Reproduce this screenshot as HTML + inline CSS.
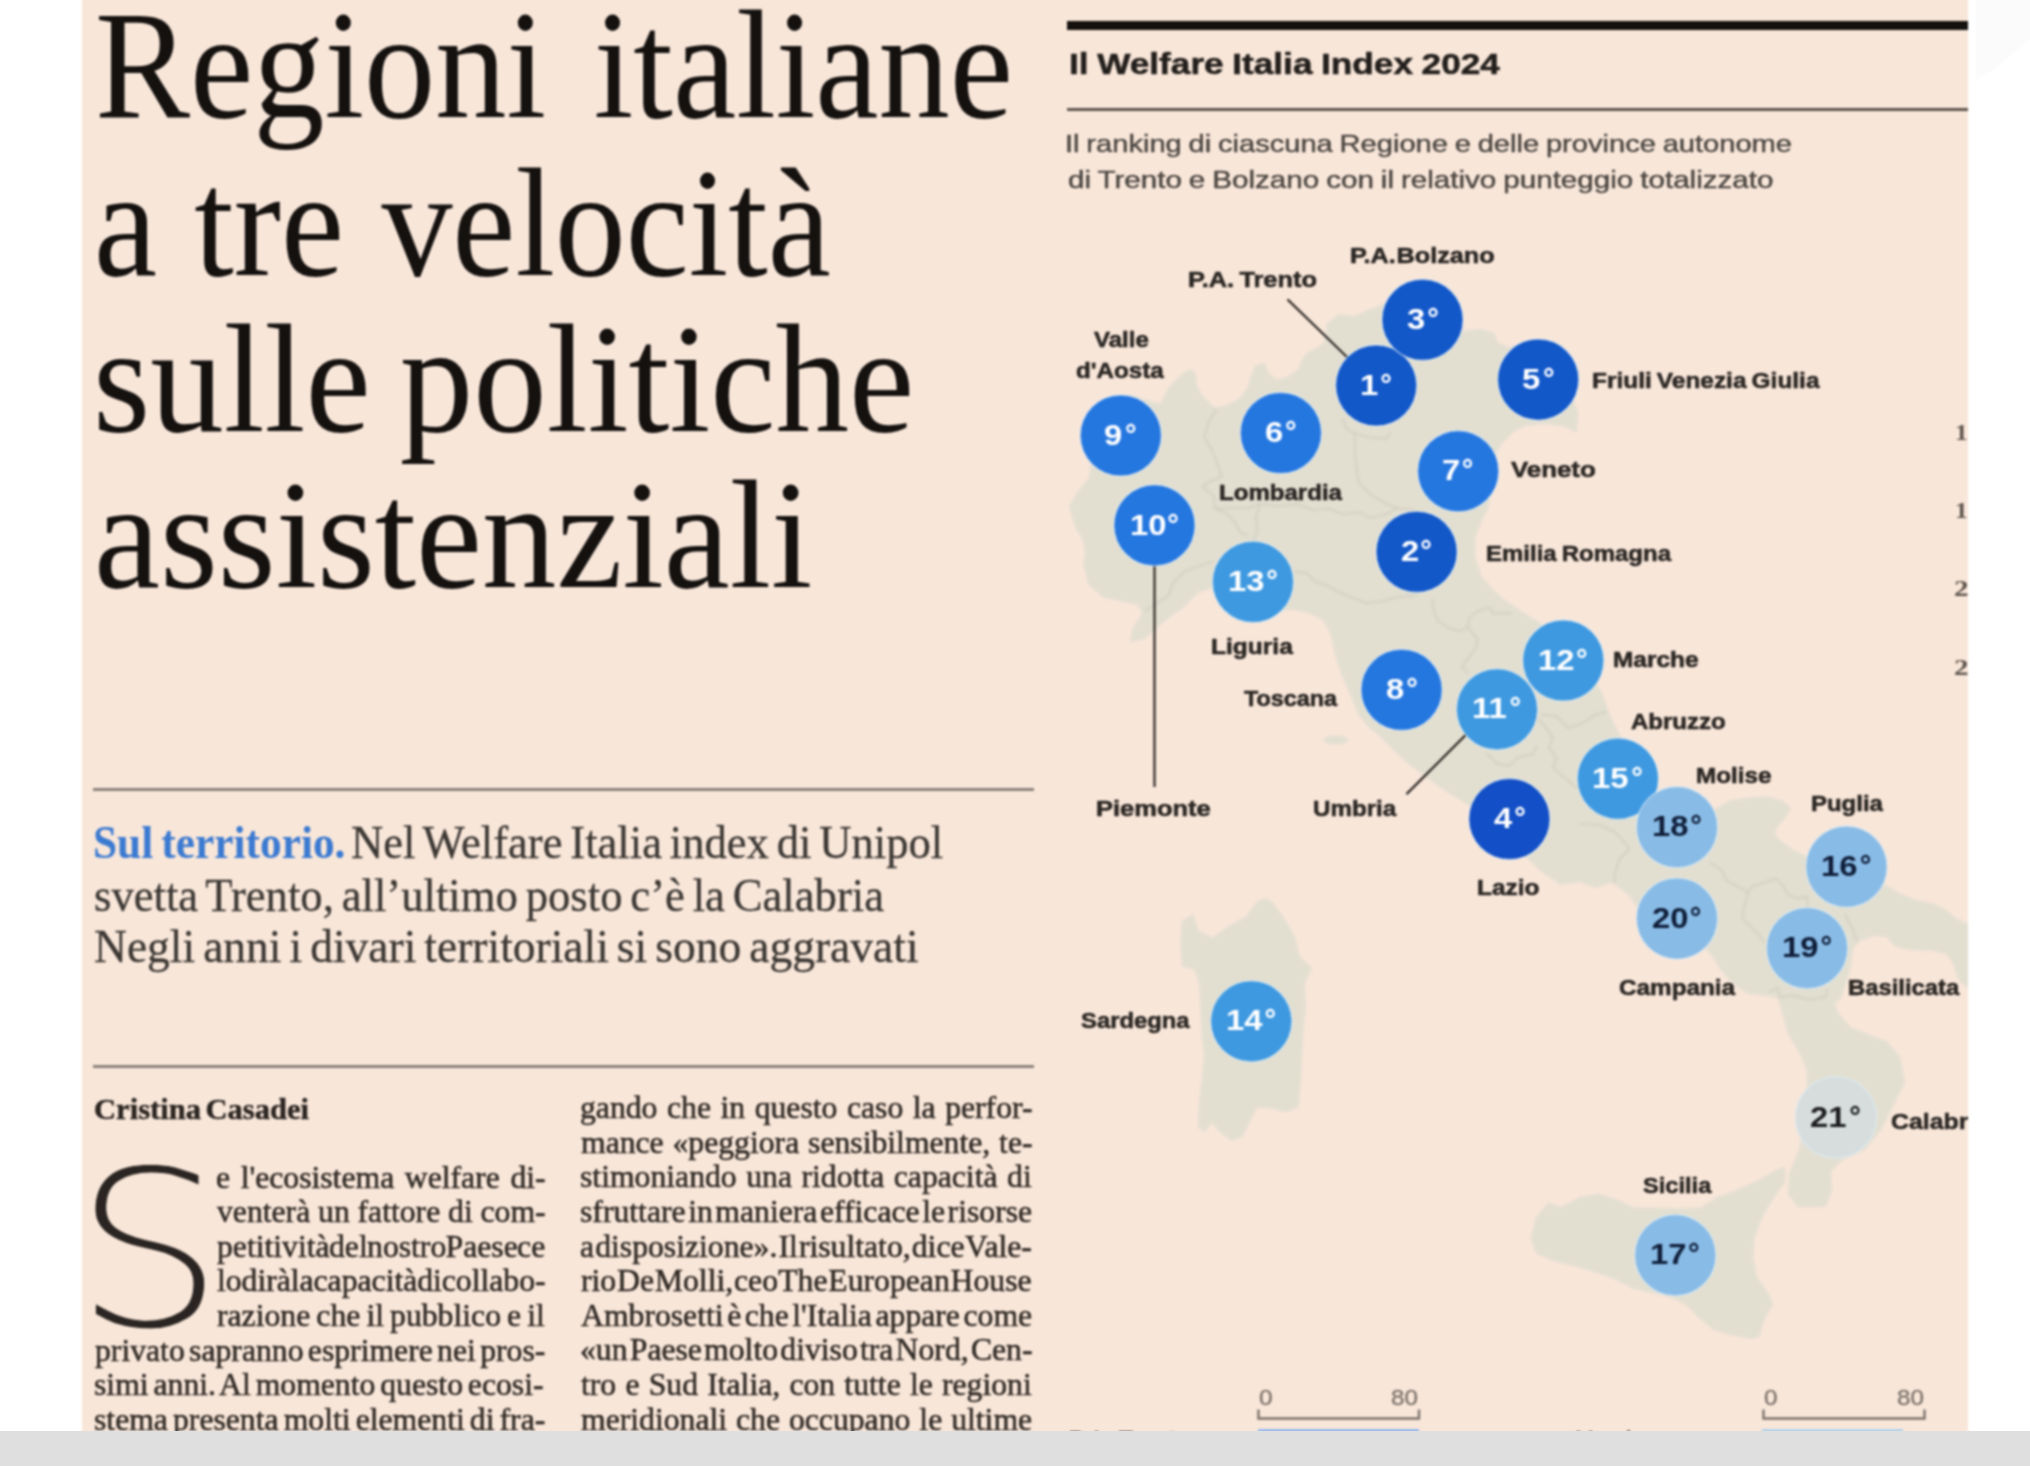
<!DOCTYPE html>
<html lang="it"><head><meta charset="utf-8"><title>Regioni italiane a tre velocità sulle politiche assistenziali</title>
<style>
html,body{margin:0;padding:0;background:#fff;}
body{width:2030px;height:1466px;overflow:hidden;position:relative;}
#page{position:absolute;left:-10px;top:-10px;width:2050px;height:1456px;overflow:hidden;background:#fff;filter:blur(1px);}
#clip{position:absolute;left:92px;top:0;width:1886px;height:1456px;overflow:hidden;background:#f8e6d9;}
#in{position:absolute;left:-82px;top:10px;width:2030px;height:1466px;}
#bar{position:absolute;left:0;top:1431px;width:2030px;height:35px;background:#dfdfdf;}
.t{position:absolute;white-space:nowrap;line-height:1;transform-origin:0 0;margin:0;}
.f-serif{font-family:"Liberation Serif",serif;}
.f-sans{font-family:"Liberation Sans",sans-serif;}
.bd{font-weight:700;}
.b{-webkit-text-stroke:0.55px #2f2924;}
.st{-webkit-text-stroke:0.4px #4a4540;}
.by{-webkit-text-stroke:0.4px #2a2420;}
.sc{-webkit-text-stroke:0.35px #7d736b;}
.sb{-webkit-text-stroke:0.3px #3b3733;}
.lb{-webkit-text-stroke:0.55px #2a2623;}
.hd{}
.r{position:absolute;}
.dg{display:inline-block;transform:scaleX(1.13);transform-origin:0 0;}
.dr{position:absolute;top:0;}
svg{position:absolute;left:0;top:0;}
#dc{position:absolute;font-family:"DejaVu Sans","Liberation Sans",sans-serif;font-weight:200;line-height:1;white-space:nowrap;transform-origin:0 0;color:#2a2522;-webkit-text-stroke:0.8px #f8e6d9;}
</style></head>
<body>
<div id="page"><svg width="2050" height="200" viewBox="-10 -10 2050 200" style="left:0;top:0"><path d="M1976 -10H2040V30L1996 68L1976 80Z" fill="#fbfbfb"/></svg><div id="clip"><div id="in">
<svg width="2030" height="1466" viewBox="0 0 2030 1466">
<defs><filter id="sf" x="-5%" y="-5%" width="110%" height="110%"><feGaussianBlur stdDeviation="1.3"/></filter></defs>
<g filter="url(#sf)" fill="#e2dfd1" stroke="#e2dfd1" stroke-width="2" stroke-linejoin="round">
<path d="M1070.0 506.0 1080.0 490.0 1090.0 478.0 1093.0 455.0 1097.0 425.0 1108.0 404.0 1130.0 396.0 1150.0 402.0 1161.0 405.0 1169.0 389.0 1177.0 380.0 1185.0 373.0 1191.0 370.0 1195.0 375.0 1196.0 386.0 1202.0 397.0 1210.0 405.0 1216.0 409.0 1228.0 406.0 1240.0 399.0 1248.0 389.0 1252.0 376.0 1256.0 366.0 1264.0 364.0 1268.0 374.0 1277.0 381.0 1287.0 378.0 1299.0 370.0 1303.0 360.0 1307.0 354.0 1315.0 350.0 1325.0 343.0 1328.0 324.0 1339.0 315.0 1355.0 317.0 1368.0 311.0 1385.0 305.0 1400.0 300.0 1420.0 296.0 1440.0 300.0 1452.0 318.0 1462.0 332.0 1481.0 330.0 1494.0 334.0 1497.0 343.0 1507.0 348.0 1525.0 346.0 1545.0 352.0 1560.0 364.0 1568.0 380.0 1572.0 400.0 1577.0 412.0 1576.0 431.0 1563.0 425.0 1544.0 423.0 1525.0 425.0 1513.0 431.0 1500.0 444.0 1492.0 460.0 1490.0 480.0 1488.0 507.0 1481.0 520.0 1474.0 538.0 1474.5 558.0 1481.0 577.0 1492.0 590.0 1503.0 600.0 1524.0 614.0 1544.0 626.0 1565.0 640.0 1585.0 665.0 1602.0 695.0 1608.0 713.0 1617.0 732.0 1635.0 762.0 1652.0 792.0 1690.0 812.0 1716.5 809.5 1730.0 801.5 1748.0 798.6 1768.0 797.6 1782.0 801.5 1790.0 808.5 1784.0 817.4 1776.0 827.3 1774.0 835.2 1782.0 843.0 1793.6 851.0 1805.5 857.0 1840.0 868.0 1887.0 887.0 1900.0 894.6 1916.5 901.0 1933.0 904.4 1944.0 910.0 1955.0 918.6 1968.0 925.0 1995.0 940.0 1995.0 1000.0 1968.0 986.3 1961.0 982.0 1957.0 973.0 1953.6 962.3 1947.0 953.5 1933.0 949.7 1911.0 949.2 1895.7 946.0 1887.0 936.0 1873.0 935.0 1856.4 941.5 1852.0 949.0 1850.0 965.5 1845.5 982.0 1839.0 1000.0 1833.0 1001.0 1837.0 1013.0 1850.0 1028.0 1872.0 1037.0 1886.0 1042.0 1899.0 1057.0 1904.0 1082.0 1895.0 1100.0 1880.0 1130.0 1864.0 1149.0 1842.0 1159.0 1830.0 1171.0 1831.0 1191.0 1825.0 1206.0 1798.0 1206.0 1789.0 1194.0 1790.0 1174.0 1800.0 1149.0 1805.0 1120.0 1808.0 1090.0 1807.6 1069.0 1800.0 1052.0 1788.0 1032.0 1786.0 1023.0 1782.0 1009.0 1778.0 997.0 1766.0 995.0 1748.0 993.0 1734.0 983.5 1722.0 970.0 1714.5 958.0 1706.6 948.0 1690.0 930.0 1650.0 915.0 1637.0 906.0 1629.5 894.5 1612.0 881.0 1596.0 887.0 1580.0 881.0 1560.7 883.7 1541.8 871.0 1520.0 850.0 1490.0 820.0 1467.7 803.3 1448.0 791.5 1428.0 777.6 1410.0 763.8 1394.5 750.0 1378.7 734.0 1370.8 728.0 1359.0 714.0 1353.0 698.5 1341.0 671.0 1336.0 655.0 1333.0 640.0 1329.7 629.3 1322.8 619.0 1309.0 612.0 1293.8 608.6 1280.0 610.0 1260.0 612.0 1240.0 605.0 1225.0 595.0 1212.4 586.8 1197.6 591.7 1183.0 606.5 1163.0 621.3 1143.4 638.5 1131.0 641.0 1133.6 628.7 1143.4 613.9 1138.5 604.0 1104.0 596.7 1089.3 584.3 1084.3 564.6 1086.0 553.0 1084.0 540.0 1076.0 527.0Z"/>
<path d="M1531.7 1237.9 1536.7 1218.2 1549.0 1203.4 1561.3 1208.4 1578.5 1198.5 1598.2 1194.8 1617.9 1201.0 1632.7 1208.4 1652.4 1208.4 1677.0 1209.6 1701.7 1208.4 1716.5 1198.5 1736.2 1191.1 1758.3 1181.3 1775.6 1171.4 1784.2 1167.7 1784.2 1181.3 1770.6 1201.0 1760.8 1218.2 1753.4 1237.9 1752.2 1257.6 1755.9 1277.3 1768.2 1294.6 1771.9 1304.4 1763.3 1319.2 1758.3 1336.5 1750.9 1337.7 1731.2 1334.0 1714.0 1329.1 1699.2 1316.7 1686.9 1304.4 1672.1 1297.0 1652.4 1292.1 1632.7 1287.2 1613.0 1277.3 1590.8 1269.9 1573.6 1265.0 1553.9 1260.1 1536.7 1252.7Z"/>
<path d="M1182.9 921.6 1192.7 915.4 1197.6 931.4 1212.4 938.8 1229.7 926.5 1246.0 918.0 1257.0 903.0 1265.0 899.0 1272.0 903.0 1283.0 918.0 1293.7 936.4 1298.6 956.1 1310.9 968.4 1303.5 983.2 1304.8 1007.8 1302.3 1032.4 1301.1 1057.0 1299.9 1081.7 1297.4 1106.3 1286.3 1111.2 1271.5 1107.5 1256.7 1106.3 1249.4 1121.1 1242.0 1135.9 1232.1 1139.6 1219.8 1130.9 1212.4 1121.1 1203.8 1130.9 1198.9 1126.0 1200.1 1101.4 1202.6 1081.7 1205.0 1057.0 1202.6 1032.4 1201.3 1007.8 1200.1 983.2 1195.2 968.4 1182.9 965.9 1181.6 943.7Z"/>
<ellipse cx="1335.7" cy="740" rx="11" ry="3.6"/>
</g>
<g filter="url(#sf)" fill="none" stroke="#d2cfc2" stroke-width="1.8" stroke-linejoin="round" stroke-linecap="round">
<path d="M1216.2 409.2 1208.3 423.1 1204.3 436.9 1212.2 450.8 1218.2 466.6 1222.1 476.5 1208.3 482.4 1202.3 486.4 1214.2 496.3 1214.2 508.2 1228.0 514.1 1236.0 524.0 1239.9 531.9 1247.8 535.8"/>
<path d="M1214.2 508.2 1228.0 508.2 1247.8 508.2 1259.7 504.2 1277.5 506.2 1297.3 504.2 1313.1 510.1 1327.0 508.2 1342.8 514.1 1358.6 512.1 1370.5 518.0 1386.3 514.1 1398.2 508.2 1414.0 510.1"/>
<path d="M1259.7 504.2 1255.7 518.0 1257.7 529.9 1253.8 539.8"/>
<path d="M1354.6 433.0 1354.6 450.8 1356.6 468.6 1358.6 482.4 1370.5 494.3 1386.3 504.2 1398.2 508.2"/>
<path d="M1342.8 419.1 1346.7 429.0 1354.6 433.0 1366.5 436.9 1386.3 438.9 1390.3 433.0"/>
<path d="M1145.0 611.0 1168.7 595.2 1172.7 583.3 1184.5 571.5 1200.3 565.5 1212.2 561.6"/>
<path d="M1295.3 571.5 1307.2 573.4 1315.1 581.3 1327.0 585.3 1336.8 591.2 1350.7 597.2 1366.5 603.1 1382.3 601.1 1398.2 597.2 1416.0 595.2"/>
<path d="M1432.1 599.6 1434.1 611.4 1438.0 621.3 1447.9 627.3 1459.8 631.2 1467.7 627.3 1469.7 617.4 1477.6 611.4 1489.5 607.5 1493.4 613.4 1511.2 613.4"/>
<path d="M1467.7 627.3 1477.6 639.1 1475.6 649.0 1467.7 658.9 1461.8 666.8 1467.7 672.8"/>
<path d="M1537.0 718.3 1546.8 728.2 1552.8 738.0 1548.8 747.9 1556.7 757.8 1552.8 767.7 1564.6 777.6 1576.5 787.5"/>
<path d="M1540.9 714.3 1556.7 716.3 1568.6 728.2 1580.5 724.2 1596.3 714.3 1606.2 712.3"/>
<path d="M1487.5 753.9 1497.4 763.8 1509.3 765.7 1517.2 757.8 1533.0 753.9 1537.0 746.0"/>
<path d="M1580.0 823.3 1599.8 825.3 1613.6 831.2 1625.5 843.1 1629.5 849.0 1619.6 858.9 1615.6 870.8 1613.6 882.7"/>
<path d="M1710.6 862.9 1722.4 870.8 1726.4 880.7 1738.3 886.6 1748.2 892.5 1752.1 886.6 1764.0 882.7 1775.8 878.7 1783.8 886.6 1787.7 894.5 1797.6 898.5 1807.5 896.5"/>
<path d="M1748.2 892.5 1744.2 906.4 1742.2 918.3 1750.1 926.2 1758.0 934.1 1764.0 942.0"/>
<path d="M1807.5 896.5 1807.5 906.4"/>
<path d="M1845.1 914.3 1853.0 930.1 1857.0 942.0"/>
<path d="M1769.9 991.5 1777.8 987.5 1779.8 997.4 1793.6 995.4 1807.5 999.4 1825.3 997.4 1827.3 989.5"/>
</g>

<line x1="1287.5" y1="299.3" x2="1349" y2="359" stroke="#3a3531" stroke-width="2.4"/>
<line x1="1154.5" y1="560" x2="1154.5" y2="787" stroke="#4a443e" stroke-width="2.6"/>
<line x1="1467" y1="733.7" x2="1406.5" y2="794.2" stroke="#3a3531" stroke-width="2.4"/>

<circle cx="1376.2" cy="385.5" r="40.6" fill="#1358c9" stroke="#dcecf7" stroke-opacity="0.55" stroke-width="1.6"/><circle cx="1422.5" cy="319.8" r="40.6" fill="#1358c9" stroke="#dcecf7" stroke-opacity="0.55" stroke-width="1.6"/><circle cx="1538.2" cy="379.6" r="40.6" fill="#1358c9" stroke="#dcecf7" stroke-opacity="0.55" stroke-width="1.6"/><circle cx="1120.8" cy="435.5" r="40.6" fill="#2577e0" stroke="#dcecf7" stroke-opacity="0.55" stroke-width="1.6"/><circle cx="1280.9" cy="433.0" r="40.6" fill="#2577e0" stroke="#dcecf7" stroke-opacity="0.55" stroke-width="1.6"/><circle cx="1458.2" cy="471.2" r="40.6" fill="#2577e0" stroke="#dcecf7" stroke-opacity="0.55" stroke-width="1.6"/><circle cx="1154.5" cy="525.4" r="40.6" fill="#2577e0" stroke="#dcecf7" stroke-opacity="0.55" stroke-width="1.6"/><circle cx="1416.6" cy="551.8" r="40.6" fill="#1358c9" stroke="#dcecf7" stroke-opacity="0.55" stroke-width="1.6"/><circle cx="1253.0" cy="581.9" r="40.6" fill="#3f99e0" stroke="#dcecf7" stroke-opacity="0.55" stroke-width="1.6"/><circle cx="1563.3" cy="660.5" r="40.6" fill="#3f99e0" stroke="#dcecf7" stroke-opacity="0.55" stroke-width="1.6"/><circle cx="1401.6" cy="689.8" r="40.6" fill="#2577e0" stroke="#dcecf7" stroke-opacity="0.55" stroke-width="1.6"/><circle cx="1497.0" cy="709.3" r="40.6" fill="#3f99e0" stroke="#dcecf7" stroke-opacity="0.55" stroke-width="1.6"/><circle cx="1617.9" cy="778.7" r="40.6" fill="#3f99e0" stroke="#dcecf7" stroke-opacity="0.55" stroke-width="1.6"/><circle cx="1509.4" cy="819.0" r="40.6" fill="#134fc6" stroke="#dcecf7" stroke-opacity="0.55" stroke-width="1.6"/><circle cx="1677.0" cy="827.2" r="40.6" fill="#88bbe6" stroke="#dcecf7" stroke-opacity="0.55" stroke-width="1.6"/><circle cx="1846.5" cy="866.7" r="40.6" fill="#88bbe6" stroke="#dcecf7" stroke-opacity="0.55" stroke-width="1.6"/><circle cx="1677.0" cy="918.6" r="40.6" fill="#88bbe6" stroke="#dcecf7" stroke-opacity="0.55" stroke-width="1.6"/><circle cx="1807.1" cy="948.2" r="40.6" fill="#88bbe6" stroke="#dcecf7" stroke-opacity="0.55" stroke-width="1.6"/><circle cx="1251.3" cy="1021.3" r="40.6" fill="#3f99e0" stroke="#dcecf7" stroke-opacity="0.55" stroke-width="1.6"/><circle cx="1835.9" cy="1117.4" r="40.6" fill="#d7dddd" stroke="#dcecf7" stroke-opacity="0.55" stroke-width="1.6"/><circle cx="1675.3" cy="1255.2" r="40.6" fill="#88bbe6" stroke="#dcecf7" stroke-opacity="0.55" stroke-width="1.6"/>

<path d="M1258.5 1409.5V1418.5H1419V1409.5" fill="none" stroke="#7d736b" stroke-width="2.4"/>
<path d="M1763.5 1409.5V1418.5H1924.5V1409.5" fill="none" stroke="#7d736b" stroke-width="2.4"/>
<rect x="1258" y="1429.2" width="161" height="10" fill="#8fb6f0"/>
<rect x="1762" y="1429.2" width="141" height="10" fill="#add2ee"/>

</svg>

<div class="r" style="left:1067px;top:21px;width:910px;height:9px;background:#15110e"></div>
<div class="r" style="left:1067px;top:108px;width:910px;height:3px;background:#5f564e"></div>
<div class="r" style="left:93px;top:787.5px;width:941px;height:3px;background:#8c837b"></div>
<div class="r" style="left:93px;top:1065px;width:941px;height:3px;background:#8c837b"></div>

<div id="dc" style="left:73.93px;top:1142.37px;font-size:218.41px;transform:scaleX(1.0813)">S</div>
<div class="t hd f-serif" style="left:95.32px;top:-12.50px;font-size:155px;color:#14110f;word-spacing:13px;transform:scaleX(0.9193);">Regioni italiane</div>
<div class="t hd f-serif" style="left:94.42px;top:145.50px;font-size:155px;color:#14110f;word-spacing:2px;transform:scaleX(0.9159);">a tre velocità</div>
<div class="t hd f-serif" style="left:93.31px;top:301.50px;font-size:155px;color:#14110f;word-spacing:-8px;transform:scaleX(0.9485);">sulle politiche</div>
<div class="t hd f-serif" style="left:94.20px;top:458.00px;font-size:155px;color:#14110f;word-spacing:-8px;transform:scaleX(0.9590);">assistenziali</div>
<div class="t f-serif bd" style="left:93.16px;top:819.40px;font-size:47px;color:#3b7ad1;word-spacing:-3px;transform:scaleX(0.9224);">Sul territorio.</div>
<div class="t sb f-serif" style="left:351.05px;top:819.40px;font-size:47px;color:#3b3733;word-spacing:-3.5px;transform:scaleX(0.9492);">Nel Welfare Italia index di Unipol</div>
<div class="t sb f-serif" style="left:94.05px;top:871.50px;font-size:47px;color:#3b3733;word-spacing:-3.5px;transform:scaleX(0.9503);">svetta Trento, all’ultimo posto c’è la Calabria</div>
<div class="t sb f-serif" style="left:94.03px;top:922.50px;font-size:47px;color:#3b3733;word-spacing:-3.5px;transform:scaleX(0.9686);">Negli anni i divari territoriali si sono aggravati</div>
<div class="t by f-serif bd" style="left:93.93px;top:1095.70px;font-size:28.5px;color:#2a2420;word-spacing:-3px;transform:scaleX(1.0724);">Cristina Casadei</div>
<div class="t b f-serif" style="left:215.72px;top:1160.60px;font-size:32.5px;color:#2f2924;word-spacing:2.745px;transform:scaleX(0.9750);">e l'ecosistema welfare di-</div>
<div class="t b f-serif" style="left:216.70px;top:1195.20px;font-size:32.5px;color:#2f2924;word-spacing:-0.115px;transform:scaleX(0.9750);">venterà un fattore di com-</div>
<div class="t b f-serif" style="left:216.70px;top:1229.80px;font-size:32.5px;color:#2f2924;word-spacing:-8.8px;transform:scaleX(0.9750);">petitività del nostro Paese ce</div>
<div class="t b f-serif" style="left:216.70px;top:1264.40px;font-size:32.5px;color:#2f2924;word-spacing:-8.211px;transform:scaleX(0.9750);">lo dirà la capacità di collabo-</div>
<div class="t b f-serif" style="left:216.70px;top:1299.00px;font-size:32.5px;color:#2f2924;word-spacing:-1.879px;transform:scaleX(0.9750);">razione che il pubblico e il</div>
<div class="t b f-serif" style="left:95.00px;top:1333.60px;font-size:32.5px;color:#2f2924;word-spacing:-3.664px;transform:scaleX(0.9750);">privato sapranno esprimere nei pros-</div>
<div class="t b f-serif" style="left:94.02px;top:1368.20px;font-size:32.5px;color:#2f2924;word-spacing:-3.112px;transform:scaleX(0.9750);">simi anni. Al momento questo ecosi-</div>
<div class="t b f-serif" style="left:94.02px;top:1402.80px;font-size:32.5px;color:#2f2924;word-spacing:-2.909px;transform:scaleX(0.9750);">stema presenta molti elementi di fra-</div>
<div class="t b f-serif" style="left:580.03px;top:1091.20px;font-size:32.5px;color:#2f2924;word-spacing:1.651px;transform:scaleX(0.9750);">gando che in questo caso la perfor-</div>
<div class="t b f-serif" style="left:581.00px;top:1125.80px;font-size:32.5px;color:#2f2924;word-spacing:0.942px;transform:scaleX(0.9750);">mance «peggiora sensibilmente, te-</div>
<div class="t b f-serif" style="left:580.03px;top:1160.40px;font-size:32.5px;color:#2f2924;word-spacing:1.655px;transform:scaleX(0.9750);">stimoniando una ridotta capacità di</div>
<div class="t b f-serif" style="left:580.02px;top:1195.00px;font-size:32.5px;color:#2f2924;word-spacing:-5.494px;transform:scaleX(0.9750);">sfruttare in maniera efficace le risorse</div>
<div class="t b f-serif" style="left:580.03px;top:1229.60px;font-size:32.5px;color:#2f2924;word-spacing:-7.004px;transform:scaleX(0.9750);">a disposizione». Il risultato, dice Vale-</div>
<div class="t b f-serif" style="left:581.00px;top:1264.20px;font-size:32.5px;color:#2f2924;word-spacing:-7.271px;transform:scaleX(0.9750);">rio De Molli, ceo The European House</div>
<div class="t b f-serif" style="left:581.00px;top:1298.80px;font-size:32.5px;color:#2f2924;word-spacing:-4.465px;transform:scaleX(0.9750);">Ambrosetti è che l'Italia appare come</div>
<div class="t b f-serif" style="left:580.03px;top:1333.40px;font-size:32.5px;color:#2f2924;word-spacing:-5.847px;transform:scaleX(0.9750);">«un Paese molto diviso tra Nord, Cen-</div>
<div class="t b f-serif" style="left:581.00px;top:1368.00px;font-size:32.5px;color:#2f2924;word-spacing:1.317px;transform:scaleX(0.9750);">tro e Sud Italia, con tutte le regioni</div>
<div class="t b f-serif" style="left:581.00px;top:1402.60px;font-size:32.5px;color:#2f2924;word-spacing:1.059px;transform:scaleX(0.9750);">meridionali che occupano le ultime</div>
<div class="t lb f-sans bd" style="left:1069.29px;top:50.00px;font-size:29px;color:#221e1b;word-spacing:-1px;transform:scaleX(1.2140);">Il Welfare Italia Index 2024</div>
<div class="t st f-sans" style="left:1064.97px;top:132.70px;font-size:23px;color:#4a4540;word-spacing:-1px;transform:scaleX(1.2643);">Il ranking di ciascuna Regione e delle province autonome</div>
<div class="t st f-sans" style="left:1067.50px;top:168.80px;font-size:23px;color:#4a4540;word-spacing:-1px;transform:scaleX(1.2870);">di Trento e Bolzano con il relativo punteggio totalizzato</div>
<div class="t lb f-sans bd" style="left:1350.47px;top:245.10px;font-size:22.4px;color:#2a2623;word-spacing:-5.5px;transform:scaleX(1.1264);">P.A. Bolzano</div>
<div class="t lb f-sans bd" style="left:1187.87px;top:268.50px;font-size:22.4px;color:#2a2623;word-spacing:-1.5px;transform:scaleX(1.1327);">P.A. Trento</div>
<div class="t lb f-sans bd" style="left:1093.70px;top:329.30px;font-size:22.4px;color:#2a2623;word-spacing:-1.5px;transform:scaleX(1.0733);">Valle</div>
<div class="t lb f-sans bd" style="left:1075.70px;top:360.10px;font-size:22.4px;color:#2a2623;word-spacing:-1.5px;transform:scaleX(1.0800);">d'Aosta</div>
<div class="t lb f-sans bd" style="left:1591.91px;top:369.60px;font-size:22.4px;color:#2a2623;word-spacing:-1.5px;transform:scaleX(1.0909);">Friuli Venezia Giulia</div>
<div class="t lb f-sans bd" style="left:1511.00px;top:459.40px;font-size:22.4px;color:#2a2623;word-spacing:-1.5px;transform:scaleX(1.1548);">Veneto</div>
<div class="t lb f-sans bd" style="left:1218.93px;top:482.00px;font-size:22.4px;color:#2a2623;word-spacing:-1.5px;transform:scaleX(1.0745);">Lombardia</div>
<div class="t lb f-sans bd" style="left:1485.93px;top:543.30px;font-size:22.4px;color:#2a2623;word-spacing:-1.5px;transform:scaleX(1.0712);">Emilia Romagna</div>
<div class="t lb f-sans bd" style="left:1211.30px;top:635.80px;font-size:22.4px;color:#2a2623;word-spacing:-1.5px;transform:scaleX(1.0959);">Liguria</div>
<div class="t lb f-sans bd" style="left:1612.91px;top:649.00px;font-size:22.4px;color:#2a2623;word-spacing:-1.5px;transform:scaleX(1.0917);">Marche</div>
<div class="t lb f-sans bd" style="left:1244.40px;top:687.50px;font-size:22.4px;color:#2a2623;word-spacing:-1.5px;transform:scaleX(1.0432);">Toscana</div>
<div class="t lb f-sans bd" style="left:1630.70px;top:710.70px;font-size:22.4px;color:#2a2623;word-spacing:-1.5px;transform:scaleX(1.0716);">Abruzzo</div>
<div class="t lb f-sans bd" style="left:1695.62px;top:765.00px;font-size:22.4px;color:#2a2623;word-spacing:-1.5px;transform:scaleX(1.0832);">Molise</div>
<div class="t lb f-sans bd" style="left:1810.93px;top:792.70px;font-size:22.4px;color:#2a2623;word-spacing:-1.5px;transform:scaleX(1.0700);">Puglia</div>
<div class="t lb f-sans bd" style="left:1095.86px;top:798.20px;font-size:22.4px;color:#2a2623;word-spacing:-1.5px;transform:scaleX(1.1377);">Piemonte</div>
<div class="t lb f-sans bd" style="left:1312.92px;top:798.20px;font-size:22.4px;color:#2a2623;word-spacing:-1.5px;transform:scaleX(1.0784);">Umbria</div>
<div class="t lb f-sans bd" style="left:1477.31px;top:876.50px;font-size:22.4px;color:#2a2623;word-spacing:-1.5px;transform:scaleX(1.0910);">Lazio</div>
<div class="t lb f-sans bd" style="left:1619.00px;top:977.30px;font-size:22.4px;color:#2a2623;word-spacing:-1.5px;transform:scaleX(1.0850);">Campania</div>
<div class="t lb f-sans bd" style="left:1848.44px;top:977.30px;font-size:22.4px;color:#2a2623;word-spacing:-1.5px;transform:scaleX(1.0644);">Basilicata</div>
<div class="t lb f-sans bd" style="left:1080.60px;top:1010.20px;font-size:22.4px;color:#2a2623;word-spacing:-1.5px;transform:scaleX(1.0645);">Sardegna</div>
<div class="t lb f-sans bd" style="left:1891.30px;top:1111.00px;font-size:22.4px;color:#2a2623;word-spacing:-1.5px;transform:scaleX(1.1101);">Calabria</div>
<div class="t lb f-sans bd" style="left:1642.60px;top:1174.60px;font-size:22.4px;color:#2a2623;word-spacing:-1.5px;transform:scaleX(1.0556);">Sicilia</div>
<div class="t sc f-sans" style="left:1259.20px;top:1387.50px;font-size:21.5px;color:#7d736b;transform:scaleX(1.1333);">0</div>
<div class="t sc f-sans" style="left:1391.00px;top:1387.50px;font-size:21.5px;color:#7d736b;transform:scaleX(1.1270);">80</div>
<div class="t sc f-sans" style="left:1764.00px;top:1387.50px;font-size:21.5px;color:#7d736b;transform:scaleX(1.1250);">0</div>
<div class="t sc f-sans" style="left:1896.50px;top:1387.50px;font-size:21.5px;color:#7d736b;transform:scaleX(1.1270);">80</div>
<div class="t f-serif bd" style="left:1955.17px;top:421.90px;font-size:22.5px;color:#5e554d;transform:scaleX(1.1300);">1</div>
<div class="t f-serif bd" style="left:1955.17px;top:500.30px;font-size:22.5px;color:#5e554d;transform:scaleX(1.1300);">1</div>
<div class="t f-serif bd" style="left:1954.20px;top:577.50px;font-size:22.5px;color:#5e554d;transform:scaleX(1.3000);">2</div>
<div class="t f-serif bd" style="left:1954.20px;top:657.30px;font-size:22.5px;color:#5e554d;transform:scaleX(1.3000);">2</div>
<div class="t f-sans" style="left:1068.44px;top:1428.60px;font-size:21.5px;color:#4a4540;transform:scaleX(1.1553);">P.A. Trento</div>
<div class="t f-sans" style="left:1574.53px;top:1428.60px;font-size:21.5px;color:#4a4540;transform:scaleX(1.0669);">Marche</div>
<div class="t f-sans bd n" style="left:1359.89px;top:370.68px;font-size:29px;color:#ffffff"><span class="dg">1</span><span class="dr" style="left:20.48px">°</span></div>
<div class="t f-sans bd n" style="left:1406.76px;top:304.98px;font-size:29px;color:#ffffff"><span class="dg">3</span><span class="dr" style="left:20.48px">°</span></div>
<div class="t f-sans bd n" style="left:1522.46px;top:364.78px;font-size:29px;color:#ffffff"><span class="dg">5</span><span class="dr" style="left:20.48px">°</span></div>
<div class="t f-sans bd n" style="left:1104.49px;top:420.68px;font-size:29px;color:#ffffff"><span class="dg">9</span><span class="dr" style="left:20.48px">°</span></div>
<div class="t f-sans bd n" style="left:1264.60px;top:418.18px;font-size:29px;color:#ffffff"><span class="dg">6</span><span class="dr" style="left:20.48px">°</span></div>
<div class="t f-sans bd n" style="left:1442.46px;top:456.38px;font-size:29px;color:#ffffff"><span class="dg">7</span><span class="dr" style="left:19.35px">°</span></div>
<div class="t f-sans bd n" style="left:1129.65px;top:510.58px;font-size:29px;color:#ffffff"><span class="dg">10</span><span class="dr" style="left:37.58px">°</span></div>
<div class="t f-sans bd n" style="left:1400.86px;top:536.98px;font-size:29px;color:#ffffff"><span class="dg">2</span><span class="dr" style="left:19.35px">°</span></div>
<div class="t f-sans bd n" style="left:1227.58px;top:567.08px;font-size:29px;color:#ffffff"><span class="dg">13</span><span class="dr" style="left:38.71px">°</span></div>
<div class="t f-sans bd n" style="left:1538.45px;top:645.68px;font-size:29px;color:#ffffff"><span class="dg">12</span><span class="dr" style="left:37.58px">°</span></div>
<div class="t f-sans bd n" style="left:1385.86px;top:674.98px;font-size:29px;color:#ffffff"><span class="dg">8</span><span class="dr" style="left:20.48px">°</span></div>
<div class="t f-sans bd n" style="left:1472.49px;top:694.48px;font-size:29px;color:#ffffff"><span class="dg">11</span><span class="dr" style="left:36.90px">°</span></div>
<div class="t f-sans bd n" style="left:1592.48px;top:763.88px;font-size:29px;color:#ffffff"><span class="dg">15</span><span class="dr" style="left:38.71px">°</span></div>
<div class="t f-sans bd n" style="left:1493.66px;top:804.18px;font-size:29px;color:#ffffff"><span class="dg">4</span><span class="dr" style="left:20.48px">°</span></div>
<div class="t f-sans bd n" style="left:1651.58px;top:812.38px;font-size:29px;color:#0f1d38"><span class="dg">18</span><span class="dr" style="left:38.71px">°</span></div>
<div class="t f-sans bd n" style="left:1821.08px;top:851.88px;font-size:29px;color:#0f1d38"><span class="dg">16</span><span class="dr" style="left:38.71px">°</span></div>
<div class="t f-sans bd n" style="left:1652.15px;top:903.78px;font-size:29px;color:#0f1d38"><span class="dg">20</span><span class="dr" style="left:37.58px">°</span></div>
<div class="t f-sans bd n" style="left:1781.68px;top:933.38px;font-size:29px;color:#0f1d38"><span class="dg">19</span><span class="dr" style="left:38.71px">°</span></div>
<div class="t f-sans bd n" style="left:1225.88px;top:1006.48px;font-size:29px;color:#ffffff"><span class="dg">14</span><span class="dr" style="left:38.71px">°</span></div>
<div class="t f-sans bd n" style="left:1810.48px;top:1102.58px;font-size:29px;color:#1c1c1e"><span class="dg">21</span><span class="dr" style="left:38.71px">°</span></div>
<div class="t f-sans bd n" style="left:1650.45px;top:1240.38px;font-size:29px;color:#0f1d38"><span class="dg">17</span><span class="dr" style="left:37.58px">°</span></div>

</div></div></div>
<div id="bar"></div>
</body></html>
